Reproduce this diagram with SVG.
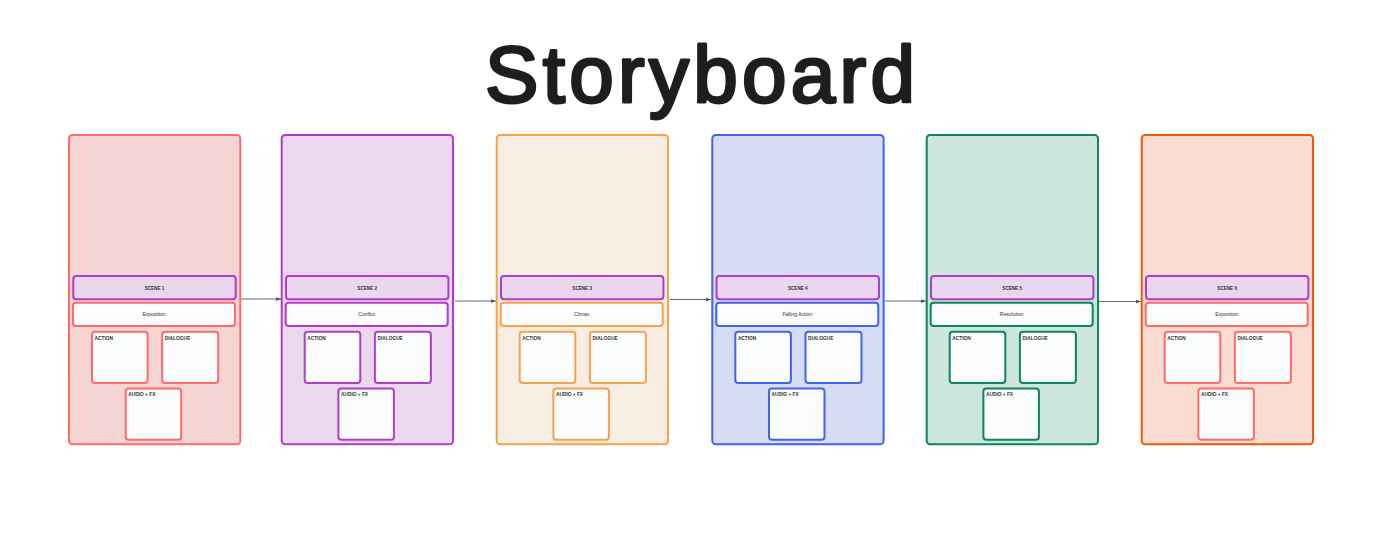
<svg xmlns="http://www.w3.org/2000/svg" width="1400" height="533" viewBox="0 0 1400 533">
<style>
.frame{stroke-width:2}
.box{fill:#fbfdfd;stroke-width:2}
.scene{fill:#ead6ef;stroke:#ae3ec9;stroke-width:2}
.lbl{font-family:"Liberation Sans",Arial,sans-serif;font-size:5px;fill:#333;stroke:none}
.sl{font-weight:bold;font-size:4.6px;text-anchor:middle}
.sub{text-anchor:middle}
.cl{font-weight:bold;font-size:4.8px}
.conn{stroke:#666;stroke-width:1;fill:none}
.red .frame{fill:#f5d4d4;stroke:#ff6b6b}.red use{stroke:#ff6b6b}
.grape .frame{fill:#ebd8ef;stroke:#ae3ec9}.grape use{stroke:#ae3ec9}
.orange .frame{fill:#f8ede3;stroke:#f8a04c}.orange use{stroke:#f8a04c}
.blue .frame{fill:#d7dcf5;stroke:#4263eb}.blue use{stroke:#4263eb}
.green .frame{fill:#cce6dd;stroke:#0c8558}.green use{stroke:#0c8558}
.deep .frame{fill:#f9dccf;stroke:#e8590c}.deep use{stroke:#ff6b6b}
</style>
<defs>
<marker id="ah" viewBox="0 0 8 8" refX="8" refY="4" markerWidth="5" markerHeight="5" orient="auto" markerUnits="userSpaceOnUse">
<path d="M0,1 L8,4 L0,7 Z" fill="#555"/>
</marker>
<g id="panel">
<rect class="scene" x="4.3" y="276" width="162.4" height="23.3" rx="3"/>
<rect class="box" x="4" y="302.7" width="162" height="23.3" rx="3"/>
<rect class="box" x="23" y="331.7" width="55.6" height="51.3" rx="3"/>
<rect class="box" x="93.2" y="331.7" width="56" height="51.3" rx="3"/>
<rect class="box" x="56.7" y="388.5" width="55.5" height="51.2" rx="3"/>
<text class="lbl cl" x="25.6" y="339.8">ACTION</text>
<text class="lbl cl" x="95.8" y="339.8">DIALOGUE</text>
<text class="lbl cl" x="59.3" y="396.3">AUDIO + FX</text>
</g>
</defs>
<rect width="1400" height="533" fill="#ffffff"/>
<text x="700" y="102" text-anchor="middle" font-family="Liberation Sans,Arial,sans-serif" font-size="80" fill="#1e1e1e" stroke="#1e1e1e" stroke-width="3" stroke-linejoin="round" stroke-linecap="round" textLength="430" lengthAdjust="spacing">Storyboard</text>

<g id="connectors">
<line class="conn" x1="241" y1="299" x2="281" y2="299" marker-end="url(#ah)"/>
<line class="conn" x1="455" y1="301" x2="496" y2="301" marker-end="url(#ah)"/>
<line class="conn" x1="670" y1="299.5" x2="711" y2="299.5" marker-end="url(#ah)"/>
<line class="conn" x1="885" y1="301" x2="926" y2="301" marker-end="url(#ah)"/>
<line class="conn" x1="1099" y1="301.5" x2="1141" y2="301.5" marker-end="url(#ah)"/>
</g>

<g id="scene1" class="red" transform="translate(69,0)">
<rect class="frame" x="0" y="135" width="171.3" height="309.3" rx="3.5"/>
<use href="#panel"/>
<text class="lbl sl" x="85.5" y="289.6">SCENE 1</text>
<text class="lbl sub" x="85" y="316.2">Exposition</text>
</g>
<g id="scene2" class="grape" transform="translate(281.7,0)">
<rect class="frame" x="0" y="135" width="171.3" height="309.3" rx="3.5"/>
<use href="#panel"/>
<text class="lbl sl" x="85.5" y="289.6">SCENE 2</text>
<text class="lbl sub" x="85" y="316.2">Conflict</text>
</g>
<g id="scene3" class="orange" transform="translate(496.7,0)">
<rect class="frame" x="0" y="135" width="171.3" height="309.3" rx="3.5"/>
<use href="#panel"/>
<text class="lbl sl" x="85.5" y="289.6">SCENE 3</text>
<text class="lbl sub" x="85" y="316.2">Climax</text>
</g>
<g id="scene4" class="blue" transform="translate(712.3,0)">
<rect class="frame" x="0" y="135" width="171.3" height="309.3" rx="3.5"/>
<use href="#panel"/>
<text class="lbl sl" x="85.5" y="289.6">SCENE 4</text>
<text class="lbl sub" x="85" y="316.2">Falling Action</text>
</g>
<g id="scene5" class="green" transform="translate(926.7,0)">
<rect class="frame" x="0" y="135" width="171.3" height="309.3" rx="3.5"/>
<use href="#panel"/>
<text class="lbl sl" x="85.5" y="289.6">SCENE 5</text>
<text class="lbl sub" x="85" y="316.2">Resolution</text>
</g>
<g id="scene6" class="deep" transform="translate(1141.7,0)">
<rect class="frame" x="0" y="135" width="171.3" height="309.3" rx="3.5"/>
<use href="#panel"/>
<text class="lbl sl" x="85.5" y="289.6">SCENE 6</text>
<text class="lbl sub" x="85" y="316.2">Exposition</text>
</g>
</svg>
